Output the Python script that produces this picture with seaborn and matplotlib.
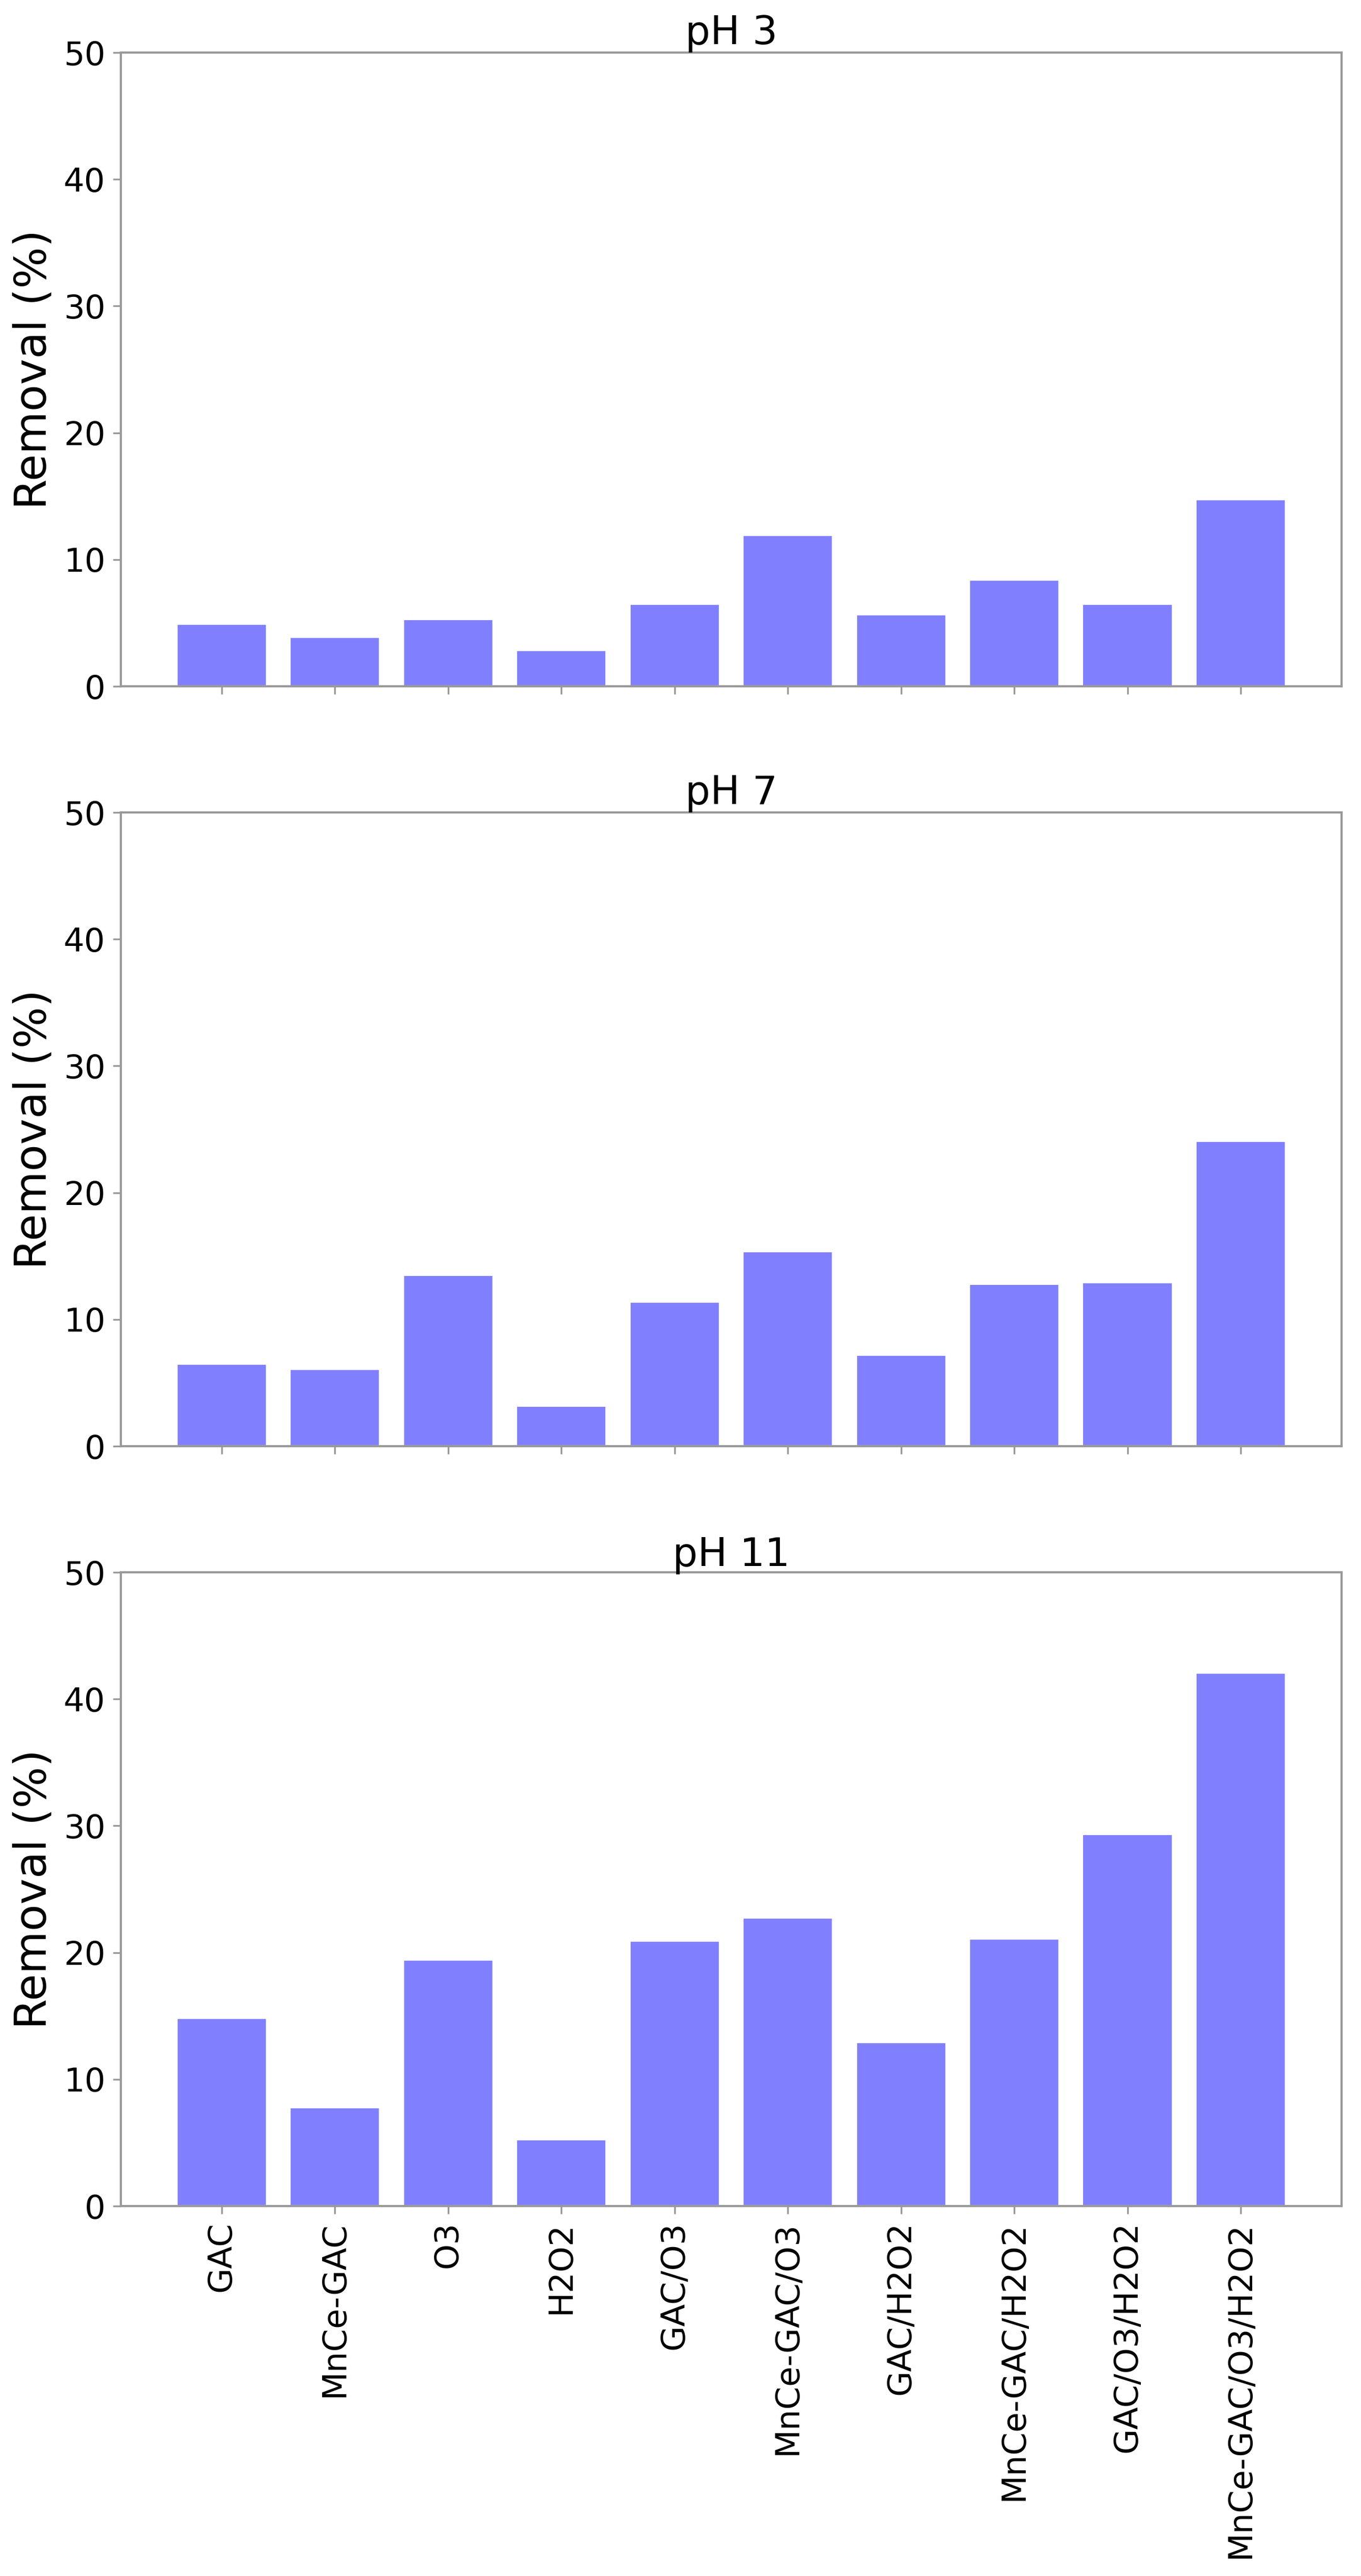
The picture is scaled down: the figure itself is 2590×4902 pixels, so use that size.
import numpy as np
import pandas as pd
import matplotlib
matplotlib.use("Agg")
import matplotlib.pyplot as plt
import seaborn as sns

# 处理方式
categories = [
    "GAC",
    "MnCe-GAC",
    "O3",
    "H2O2",
    "GAC/O3",
    "MnCe-GAC/O3",
    "GAC/H2O2",
    "MnCe-GAC/H2O2",
    "GAC/O3/H2O2",
    "MnCe-GAC/O3/H2O2",
]

# 各 pH 下的去除率 (%)
removal_ph3 = [4.95, 3.9, 5.3, 2.85, 6.5, 11.95, 5.7, 8.4, 6.5, 14.75]
removal_ph7 = [6.5, 6.1, 13.5, 3.2, 11.4, 15.4, 7.2, 12.8, 12.95, 24.1]
removal_ph11 = [14.85, 7.8, 19.45, 5.25, 20.95, 22.75, 12.95, 21.1, 29.35, 42.1]

panel_titles = ["pH 3", "pH 7", "pH 11"]
panel_values = [removal_ph3, removal_ph7, removal_ph11]

sns.set_style("white")
plt.rcParams["font.family"] = ["DejaVu Sans"]
plt.rcParams["text.color"] = "black"
plt.rcParams["axes.labelcolor"] = "black"

fig, axes = plt.subplots(3, 1, figsize=(2590 / 300, 4902 / 300), dpi=300, sharex=True)
fig.subplots_adjust(left=0.0888, right=0.9857, top=0.9796, bottom=0.1436, hspace=0.199)

for ax, title, values in zip(axes, panel_titles, panel_values):
    df = pd.DataFrame({"method": categories, "removal": values})
    sns.barplot(
        data=df,
        x="method",
        y="removal",
        color="#8080ff",
        saturation=1,
        width=0.8,
        ax=ax,
    )
    ax.set_xlim(-0.89, len(categories) - 1 + 0.89)
    ax.set_ylim(0, 50)
    ax.set_yticks(np.arange(0, 51, 10))
    ax.set_title(title, fontsize=18, pad=3, color="black")
    ax.set_ylabel("Removal (%)", fontsize=20, color="black")
    ax.set_xlabel("")
    ax.tick_params(axis="both", labelsize=15, length=3.5, width=0.8,
                   color="#999999", labelcolor="black", bottom=True, left=True)
    for sp in ax.spines.values():
        sp.set_visible(True)
        sp.set_color("#999999")
        sp.set_linewidth(1.0)

axes[-1].tick_params(axis="x", labelrotation=90)

fig.savefig("out.png", dpi=300)
plt.close(fig)
